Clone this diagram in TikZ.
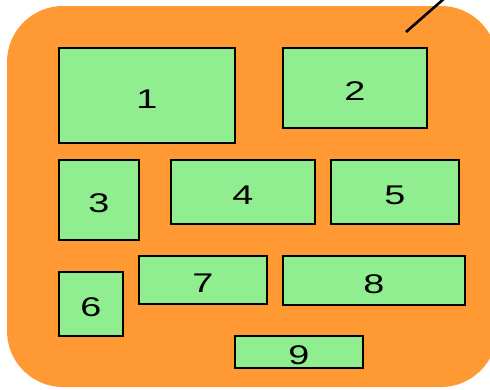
\documentclass[tikz,border=0pt]{standalone}
\usepackage{fontspec}
\newfontfamily\digfont{Liberation Sans}[FakeStretch=1.4]
\definecolor{orng}{HTML}{FE9933}
\definecolor{lgreen}{HTML}{90EE90}
\tikzset{
  gbox/.style={draw=black, line width=2.2pt, fill=lgreen, inner sep=0pt, outer sep=0pt,
    anchor=north west, font=\digfont\fontsize{27}{27}\selectfont, text=black,
    text height=25pt, text depth=0pt},
}
\begin{document}
\begin{tikzpicture}[x=1pt,y=1pt]
\useasboundingbox (0,0) rectangle (490,-389);
\begin{scope}
\clip (0,0) rectangle (490,-389);
\fill[orng, rounded corners=56pt] (7,-6) rectangle (497,-387);
\coordinate (ls) at (406,-32);
\coordinate (le) at (446,3);
\draw[line width=2.6pt] (ls) -- (le);
\end{scope}
\node[gbox, minimum width=176pt, minimum height=95pt] (b1) at (59,-48) {1};
\node[gbox, minimum width=144pt, minimum height=80pt] (b2) at (283,-48) {2};
\node[gbox, minimum width=80pt, minimum height=80pt] (b3) at (59,-160) {3};
\node[gbox, minimum width=144pt, minimum height=64pt] (b4) at (171,-160) {4};
\node[gbox, minimum width=128pt, minimum height=64pt] (b5) at (331,-160) {5};
\node[gbox, minimum width=64pt, minimum height=64pt] (b6) at (59,-272) {6};
\node[gbox, minimum width=128pt, minimum height=48pt] (b7) at (139,-256) {7};
\node[gbox, minimum width=182pt, minimum height=49pt] (b8) at (283,-256) {8};
\node[gbox, minimum width=128pt, minimum height=32pt] (b9) at (235,-336) {9};
\end{tikzpicture}
\end{document}
